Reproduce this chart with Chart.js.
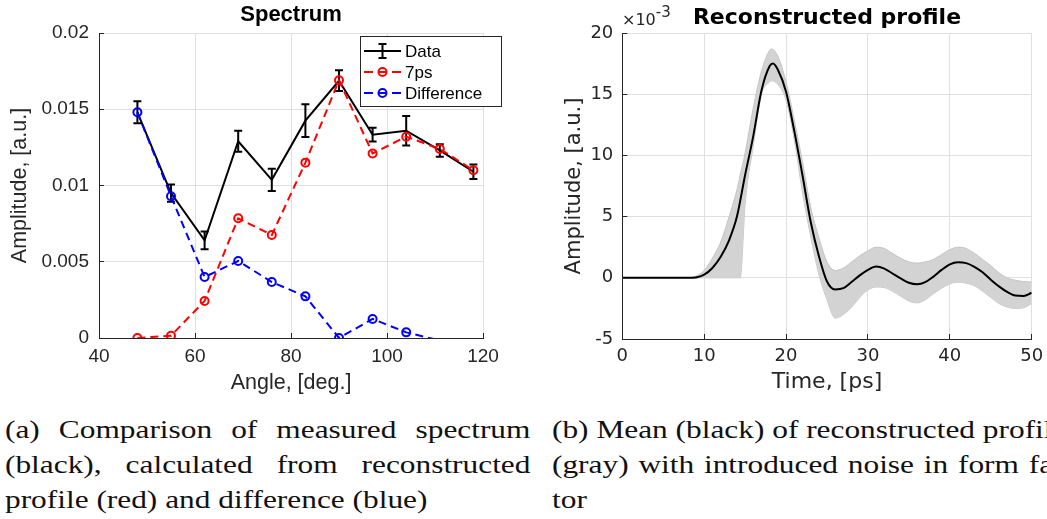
<!DOCTYPE html>
<html>
<head>
<meta charset="utf-8">
<title>Spectrum and reconstructed profile</title>
<script src="https://cdn.jsdelivr.net/npm/chart.js@4.4.1/dist/chart.umd.min.js"></script>
<style>
  html, body { margin: 0; padding: 0; background: #fff; }
  body { width: 1047px; height: 519px; overflow: hidden; position: relative; }
  .panel { position: absolute; top: 0; }
  #spectrumBox { left: 0; width: 530px; height: 400px; }
  #profileBox { left: 545px; width: 520px; height: 400px; }
  .exponent {
    position: absolute; left: 622px; top: 11px; line-height: 18px;
    font-family: 'DejaVu Sans', sans-serif; font-size: 16px; color: #262626; white-space: nowrap;
  }
  .exponent sup { font-size: 15px; vertical-align: 8px; line-height: 0; }
  .caption {
    position: absolute; top: 412px; width: 419px;
    font-family: 'Liberation Serif', serif; font-size: 25px; line-height: 35px; color: #111;
    transform: scaleX(1.254); transform-origin: 0 0;
  }
  .caption div { white-space: nowrap; }
  .caption .full { text-align: justify; text-align-last: justify; }
</style>
</head>
<body>
<div class="panel" id="spectrumBox"><canvas id="spectrumChart" width="530" height="400"></canvas></div>
<div class="panel" id="profileBox"><canvas id="profileChart" width="520" height="400"></canvas></div>
<div class="exponent">&times;10<sup>-3</sup></div>

<div class="caption" style="left:5px">
  <div class="full">(a) Comparison of measured spectrum</div>
  <div class="full">(black), calculated from reconstructed</div>
  <div>profile (red) and difference (blue)</div>
</div>
<div class="caption" style="left:552px">
  <div class="full">(b) Mean (black) of reconstructed profiles</div>
  <div class="full">(gray) with introduced noise in form fac-</div>
  <div>tor</div>
</div>

<script>
// left panel: spectrum vs angle
const angles = [48, 55, 62, 69, 76, 83, 90, 97, 104, 111, 118];
const dataAmp = [0.0148, 0.0095, 0.0064, 0.0129, 0.01037, 0.01425, 0.01687, 0.01333, 0.01359, 0.0123, 0.0109];
const dataErr = [0.00072, 0.00056, 0.00058, 0.00069, 0.00073, 0.00107, 0.00068, 0.00045, 0.00097, 0.00041, 0.00048];
const calc7ps = [0, 0.00015, 0.00243, 0.00785, 0.00675, 0.0115, 0.0169, 0.0121, 0.0132, 0.0124, 0.011];
const difference = [0.0148, 0.0093, 0.004, 0.00505, 0.00367, 0.00273, 0, 0.00125, 0.00037, -0.00016, -0.0002];

const angleTicks = [40, 60, 80, 100, 120];
const angleTickLabels = ['40', '60', '80', '100', '120'];
const ampTicks = [0, 0.005, 0.01, 0.015, 0.02];
const ampTickLabels = ['0', '0.005', '0.01', '0.015', '0.02'];

// right panel: reconstructed profile (x10^-3)
const meanTime = [0, 8, 9, 10, 11, 12, 13, 14, 15, 16, 17, 18, 18.4,
  19, 20, 21, 22, 23, 24, 25, 26, 27, 28, 29, 30, 31, 32, 33, 34,
  35, 36, 37, 38, 39, 40, 41, 42, 43, 44, 45, 46, 47, 48, 49, 50];
const meanProfile = [0, 0, 0.03, 0.25, 0.8, 1.7, 3.0, 5.0, 8.4, 11.6, 15.3, 17.3, 17.5,
  17.0, 15.2, 12.0, 8.4, 4.6, 1.8, -0.3, -0.95, -0.85, -0.35, 0.2, 0.65, 0.92, 0.75, 0.35, -0.05,
  -0.4, -0.52, -0.35, 0.1, 0.65, 1.1, 1.27, 1.2, 0.9, 0.45, -0.15, -0.7, -1.15, -1.45, -1.48, -1.22];

// spread of the noisy reconstructions (upper and lower edge of the gray band)
const bandTime = [0, 8, 9, 10, 11, 12, 13, 14, 14.4, 15, 16, 17, 18, 18.2,
  19, 20, 21, 22, 23, 24, 25, 26, 27, 28, 29, 30, 31, 32, 33, 34,
  35, 36, 37, 38, 39, 40, 41, 42, 43, 44, 45, 46, 47, 48, 49, 50];
const bandUpper = [0, 0, 0.15, 0.6, 1.6, 2.9, 4.9, 7.2, 8.4, 10.2, 13.9, 16.9, 18.6, 18.7,
  18.1, 16.0, 12.9, 9.5, 5.8, 3.3, 1.3, 0.6, 0.8, 1.3, 1.8, 2.2, 2.5, 2.4, 2.0, 1.6,
  1.3, 1.2, 1.3, 1.5, 1.9, 2.3, 2.5, 2.4, 2.0, 1.5, 1.0, 0.4, 0.0, -0.2, -0.3, -0.35];
const bandLower = [0, 0, 0, 0, 0, 0, 0, 0, 0, 6.0, 10.8, 15.0, 16.0, 16.1,
  15.8, 14.5, 11.3, 7.0, 3.4, 0.3, -1.8, -3.3, -3.0, -2.4, -1.6, -1.0, -0.75, -0.8, -1.1, -1.5,
  -1.9, -2.05, -1.8, -1.3, -0.85, -0.5, -0.35, -0.45, -0.65, -1.1, -1.6, -2.1, -2.4, -2.5, -2.45, -2.1];

const timeTicks = [0, 10, 20, 30, 40, 50];
const timeTickLabels = ['0', '10', '20', '30', '40', '50'];
const profileTicks = [-5, 0, 5, 10, 15, 20];
const profileTickLabels = ['-5', '0', '5', '10', '15', '20'];

const axisGray = '#262626';
const gridGray = '#dfdfdf';
const sansL = "'Liberation Sans', Arial, sans-serif";
const sansD = "'DejaVu Sans', sans-serif";

function points(xs, ys) {
    return xs.map((x, i) => ({ x: x, y: ys[i] }));
}

function fixedTicks(values) {
    return scale => { scale.ticks = values.map(v => ({ value: v })); };
}

function labelFor(values, labels) {
    return value => labels[values.indexOf(value)];
}

// draws the error bars of the "Data" series
const errorBars = {
    id: 'errorBars',
    afterDatasetDraw(chart, args) {
        if (args.index !== 0) return;
        const { ctx, scales: { x, y } } = chart;
        ctx.save();
        ctx.strokeStyle = '#000';
        ctx.lineWidth = 2;
        angles.forEach((a, i) => {
            const px = x.getPixelForValue(a);
            const top = y.getPixelForValue(dataAmp[i] + dataErr[i]);
            const bot = y.getPixelForValue(dataAmp[i] - dataErr[i]);
            ctx.beginPath();
            ctx.moveTo(px, top); ctx.lineTo(px, bot);
            ctx.moveTo(px - 4, top); ctx.lineTo(px + 4, top);
            ctx.moveTo(px - 4, bot); ctx.lineTo(px + 4, bot);
            ctx.stroke();
        });
        ctx.restore();
    }
};

// matlab style legend box in the upper right corner
const boxLegend = {
    id: 'boxLegend',
    afterDraw(chart) {
        const { ctx, chartArea } = chart;
        const x0 = Math.round(chartArea.right - 123) + 0.5;
        const y0 = Math.round(chartArea.top + 3) + 0.5;
        const w = 141, h = 70;
        ctx.save();
        ctx.fillStyle = '#fff';
        ctx.fillRect(x0, y0, w, h);
        ctx.strokeStyle = axisGray;
        ctx.lineWidth = 1;
        ctx.strokeRect(x0, y0, w, h);
        chart.data.datasets.forEach((ds, i) => {
            const y = y0 + 14.5 + i * 21;
            const xs = x0 + 3.5, xe = x0 + 40.5, xm = (xs + xe) / 2;
            ctx.strokeStyle = ds.borderColor;
            ctx.lineWidth = 2;
            ctx.beginPath();
            if (ds.borderDash) {
                ctx.moveTo(xs, y); ctx.lineTo(xs + 9, y);
                ctx.moveTo(xm - 4.5, y); ctx.lineTo(xm + 4.5, y);
                ctx.moveTo(xe - 9, y); ctx.lineTo(xe, y);
                ctx.stroke();
                ctx.beginPath();
                ctx.arc(xm, y, 4, 0, Math.PI * 2);
                ctx.stroke();
            } else {
                ctx.moveTo(xs, y); ctx.lineTo(xe, y);
                ctx.moveTo(xm, y - 7); ctx.lineTo(xm, y + 7);
                ctx.moveTo(xm - 4, y - 7); ctx.lineTo(xm + 4, y - 7);
                ctx.moveTo(xm - 4, y + 7); ctx.lineTo(xm + 4, y + 7);
                ctx.stroke();
            }
            ctx.fillStyle = '#000';
            ctx.font = '17px ' + sansL;
            ctx.textBaseline = 'middle';
            ctx.fillText(ds.label, x0 + 44.5, y + 1);
        });
        ctx.restore();
    }
};

new Chart(document.getElementById('spectrumChart'), {
    type: 'line',
    data: {
        datasets: [{
            label: 'Data',
            data: points(angles, dataAmp),
            borderColor: '#000',
            borderWidth: 2,
            pointRadius: 0,
            order: 3
        }, {
            label: '7ps',
            data: points(angles, calc7ps),
            borderColor: '#ff0000',
            borderWidth: 2,
            borderDash: [8, 5],
            pointRadius: 4,
            pointBorderWidth: 2,
            pointBackgroundColor: 'rgba(0,0,0,0)',
            pointBorderColor: '#ff0000',
            order: 2
        }, {
            label: 'Difference',
            data: points(angles, difference),
            borderColor: '#0000ff',
            borderWidth: 2,
            borderDash: [8, 5],
            pointRadius: c => (c.raw && c.raw.y < 0) ? 0 : 4,
            pointBorderWidth: 2,
            pointBackgroundColor: 'rgba(0,0,0,0)',
            pointBorderColor: '#0000ff',
            order: 1
        }]
    },
    options: {
        responsive: false,
        animation: false,
        devicePixelRatio: 1,
        layout: { padding: { left: 0, right: 47, top: 0, bottom: 0 } },
        plugins: {
            legend: { display: false },
            tooltip: { enabled: false },
            title: {
                display: true,
                text: 'Spectrum',
                fullSize: false,
                color: '#000',
                font: { family: sansL, size: 22, weight: 'bold' },
                padding: { top: 1.8, bottom: 4.8 }
            }
        },
        scales: {
            x: {
                type: 'linear',
                min: 40,
                max: 120,
                afterBuildTicks: fixedTicks(angleTicks),
                afterFit: s => { s.height = 62; },
                grid: { color: gridGray, tickLength: -5, tickColor: axisGray },
                border: { color: axisGray },
                ticks: {
                    color: axisGray,
                    font: { family: sansL, size: 19 },
                    padding: 12,
                    maxRotation: 0,
                    callback: labelFor(angleTicks, angleTickLabels)
                },
                title: {
                    display: true,
                    text: 'Angle, [deg.]',
                    color: axisGray,
                    font: { family: sansL, size: 21.5 },
                    padding: { top: 0, bottom: 4 }
                }
            },
            y: {
                min: 0,
                max: 0.02,
                afterBuildTicks: fixedTicks(ampTicks),
                afterFit: s => { s.width = 99; },
                grid: { color: gridGray, tickLength: -5, tickColor: axisGray },
                border: { color: axisGray },
                ticks: {
                    color: axisGray,
                    font: { family: sansL, size: 19 },
                    padding: 15,
                    callback: labelFor(ampTicks, ampTickLabels)
                },
                title: {
                    display: true,
                    text: 'Amplitude, [a.u.]',
                    color: axisGray,
                    font: { family: sansL, size: 21.5 },
                    padding: { top: 7, bottom: 0 }
                }
            }
        }
    },
    plugins: [errorBars, boxLegend]
});

new Chart(document.getElementById('profileChart'), {
    type: 'line',
    data: {
        datasets: [{
            label: 'Mean',
            data: points(meanTime, meanProfile),
            borderColor: '#000',
            borderWidth: 2,
            pointRadius: 0,
            cubicInterpolationMode: 'monotone',
            fill: false,
            order: 0
        }, {
            label: 'Noisy upper',
            data: points(bandTime, bandUpper),
            borderColor: '#c4c4c4',
            borderWidth: 1,
            backgroundColor: '#d3d3d3',
            pointRadius: 0,
            cubicInterpolationMode: 'monotone',
            fill: '+1',
            order: 1
        }, {
            label: 'Noisy lower',
            data: points(bandTime, bandLower),
            borderColor: '#c4c4c4',
            borderWidth: 1,
            pointRadius: 0,
            cubicInterpolationMode: 'monotone',
            fill: false,
            order: 1
        }]
    },
    options: {
        responsive: false,
        animation: false,
        devicePixelRatio: 1,
        layout: { padding: { left: 0, right: 33.3, top: 0, bottom: 0 } },
        plugins: {
            legend: { display: false },
            tooltip: { enabled: false },
            title: {
                display: true,
                text: 'Reconstructed profile',
                fullSize: false,
                color: '#000',
                font: { family: sansD, size: 22, weight: 'bold' },
                padding: { top: 4.8, bottom: 1.8 }
            }
        },
        scales: {
            x: {
                type: 'linear',
                min: 0,
                max: 50,
                afterBuildTicks: fixedTicks(timeTicks),
                afterFit: s => { s.height = 61; },
                grid: { color: gridGray, tickLength: -5, tickColor: axisGray },
                border: { color: axisGray },
                ticks: {
                    color: axisGray,
                    font: { family: sansD, size: 18 },
                    padding: 12,
                    maxRotation: 0,
                    callback: labelFor(timeTicks, timeTickLabels)
                },
                title: {
                    display: true,
                    text: 'Time, [ps]',
                    color: axisGray,
                    font: { family: sansD, size: 22 },
                    padding: { top: 0, bottom: 5 }
                }
            },
            y: {
                min: -5,
                max: 20,
                afterBuildTicks: fixedTicks(profileTicks),
                afterFit: s => { s.width = 77.3; },
                grid: { color: gridGray, tickLength: -5, tickColor: axisGray },
                border: { color: axisGray },
                ticks: {
                    color: axisGray,
                    font: { family: sansD, size: 18 },
                    padding: 14,
                    callback: labelFor(profileTicks, profileTickLabels)
                },
                title: {
                    display: true,
                    text: 'Amplitude, [a.u.]',
                    color: axisGray,
                    font: { family: sansD, size: 21 },
                    padding: { top: 17, bottom: 0 }
                }
            }
        }
    }
});
</script>
</body>
</html>
